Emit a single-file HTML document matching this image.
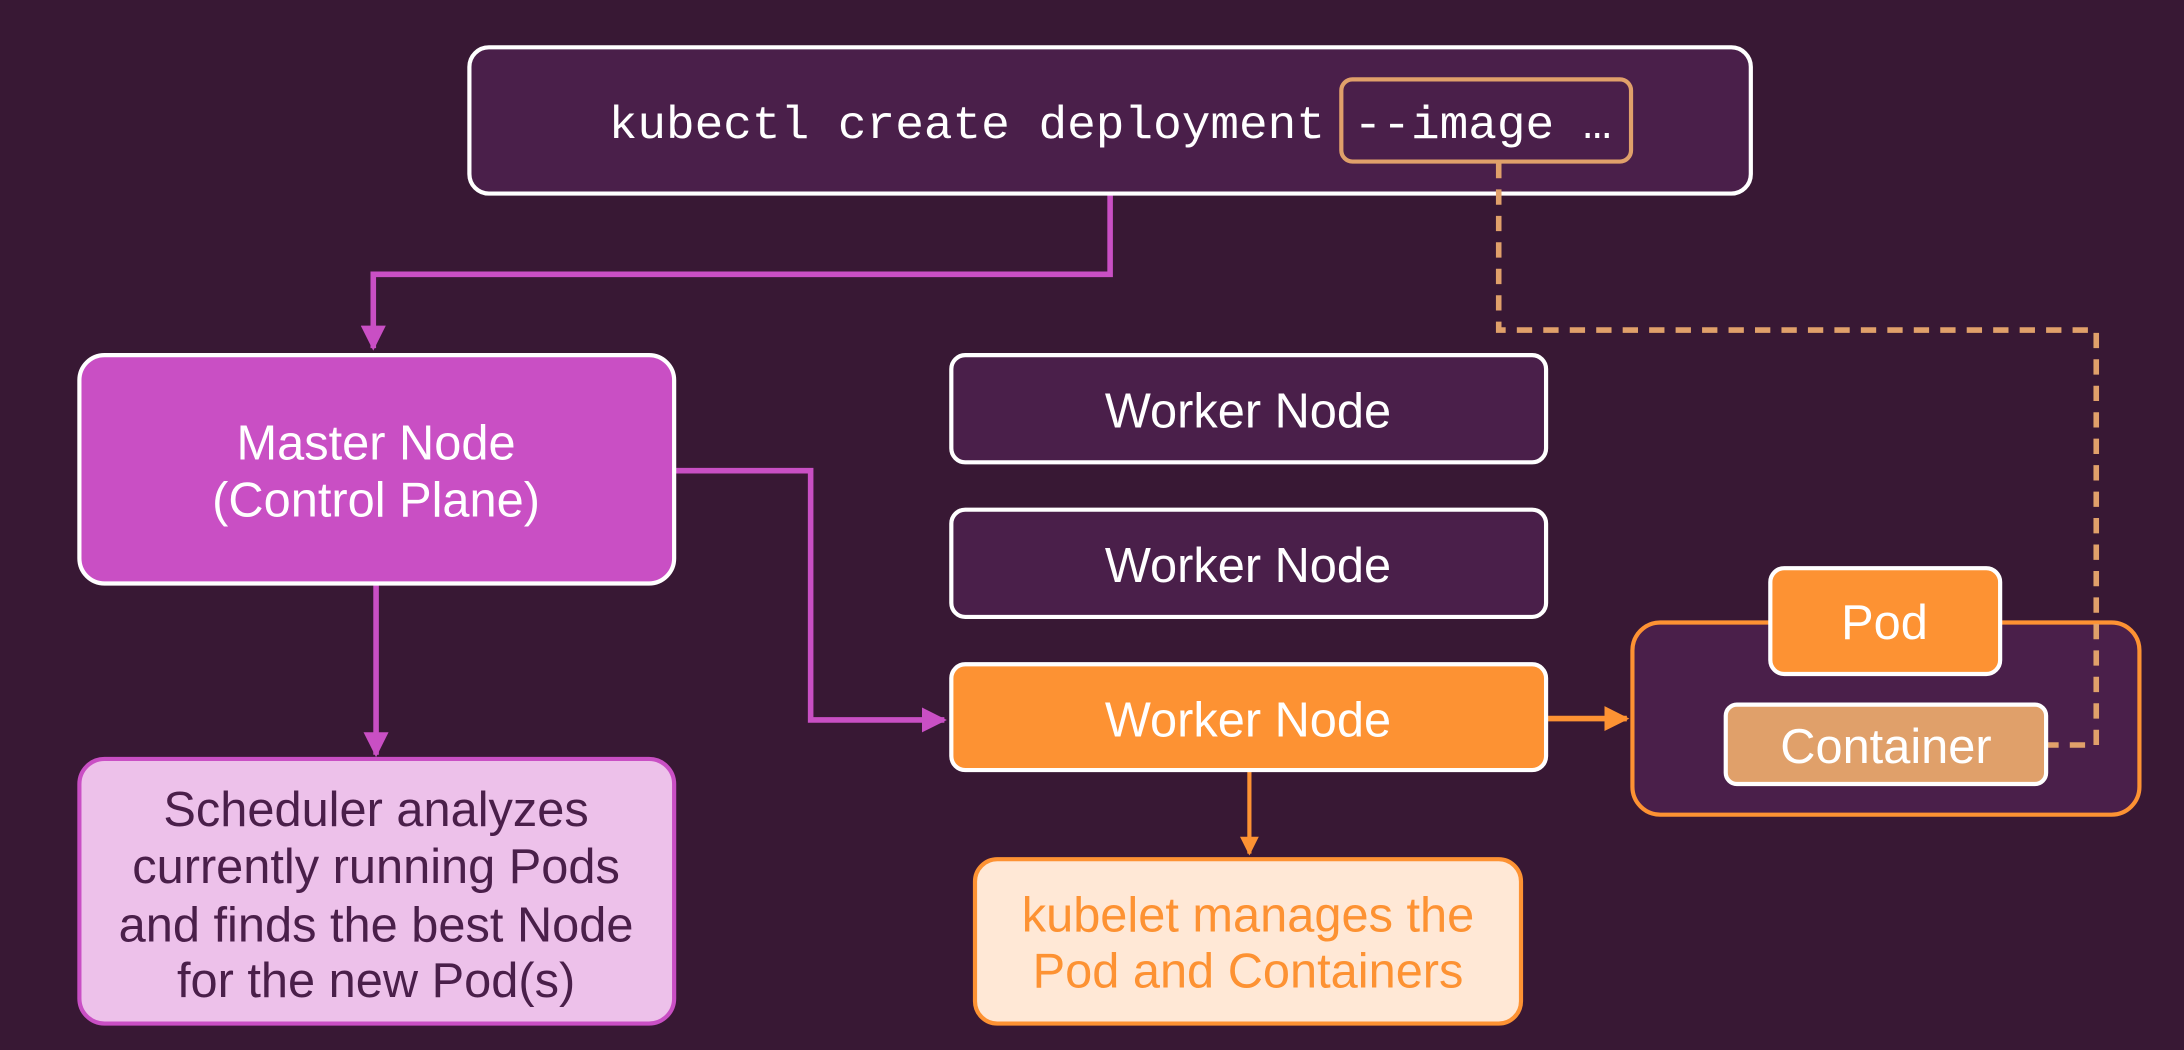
<!DOCTYPE html>
<html><head><meta charset="utf-8"><style>
html,body{margin:0;padding:0;background:#381834;width:2184px;height:1050px;overflow:hidden}
svg{display:block}
text{font-family:"Liberation Sans",sans-serif}
</style></head><body>
<svg width="2184" height="1050" viewBox="0 0 1568 754" preserveAspectRatio="none" xmlns="http://www.w3.org/2000/svg">
<defs>
<marker id="ap" viewBox="0 0 10 10" refX="9" refY="5" markerWidth="4.5" markerHeight="4.5" orient="auto"><path d="M0,0 L10,5 L0,10 z" fill="#c94fc4"/></marker>
<marker id="ao" viewBox="0 0 10 10" refX="9" refY="5" markerWidth="4.5" markerHeight="4.5" orient="auto"><path d="M0,0 L10,5 L0,10 z" fill="#fd9233"/></marker>
</defs>
<rect width="1568" height="754" fill="#381834"/>
<polyline points="797,139 797,197 268,197 268,250" fill="none" stroke="#c94fc4" stroke-width="4" marker-end="url(#ap)"/>
<polyline points="484,338 582,338 582,517 678,517" fill="none" stroke="#c94fc4" stroke-width="4" marker-end="url(#ap)"/>
<polyline points="270,419 270,542" fill="none" stroke="#c94fc4" stroke-width="4" marker-end="url(#ap)"/>
<polyline points="1110,516 1168,516" fill="none" stroke="#fd9233" stroke-width="4" marker-end="url(#ao)"/>
<polyline points="897,553 897,613" fill="none" stroke="#fd9233" stroke-width="3" marker-end="url(#ao)"/>
<rect x="337" y="34" width="920" height="105" rx="14" fill="#4a1f4a" stroke="#fff" stroke-width="3"/>
<rect x="963" y="57" width="208" height="59" rx="8" fill="none" stroke="#e0a06a" stroke-width="3"/>
<text x="437" y="99" font-size="33" fill="#fff" textLength="720" lengthAdjust="spacingAndGlyphs" style="font-family:'Liberation Mono',monospace">kubectl create deployment --image …</text>
<rect x="57" y="255" width="427" height="164" rx="18" fill="#c94fc4" stroke="#fff" stroke-width="3"/>
<g font-size="35" fill="#fff" text-anchor="middle">
<text x="270" y="330">Master Node</text>
<text x="270" y="371">(Control Plane)</text>
</g>
<rect x="57" y="545" width="427" height="190" rx="18" fill="#edc1ea" stroke="#c94fc4" stroke-width="3"/>
<g font-size="35" fill="#4a1f4a" text-anchor="middle">
<text x="270" y="593">Scheduler analyzes</text>
<text x="270" y="634">currently running Pods</text>
<text x="270" y="676">and finds the best Node</text>
<text x="270" y="716">for the new Pod(s)</text>
</g>
<rect x="683" y="255" width="427" height="77" rx="10" fill="#4a1f4a" stroke="#fff" stroke-width="3"/>
<rect x="683" y="366" width="427" height="77" rx="10" fill="#4a1f4a" stroke="#fff" stroke-width="3"/>
<rect x="683" y="477" width="427" height="76" rx="10" fill="#fd9233" stroke="#fff" stroke-width="3"/>
<g font-size="35" fill="#fff" text-anchor="middle">
<text x="896" y="307">Worker Node</text>
<text x="896" y="418">Worker Node</text>
<text x="896" y="529">Worker Node</text>
</g>
<rect x="700" y="617" width="392" height="118" rx="16" fill="#ffe8d6" stroke="#fd9233" stroke-width="3"/>
<text x="896" y="669" font-size="35" fill="#fd9233" text-anchor="middle">kubelet manages the</text>
<text x="896" y="709" font-size="35" fill="#fd9233" text-anchor="middle">Pod and Containers</text>
<rect x="1172" y="447" width="364" height="138" rx="20" fill="#4a1f4a" stroke="#fd9233" stroke-width="3"/>
<polyline points="1076,117 1076,237 1505,237 1505,535 1469,535" fill="none" stroke="#e0a06a" stroke-width="4" stroke-dasharray="11,8"/>
<rect x="1271" y="408" width="165" height="76" rx="10" fill="#fd9233" stroke="#fff" stroke-width="3"/>
<text x="1353" y="459" font-size="35" fill="#fff" text-anchor="middle">Pod</text>
<rect x="1239" y="506" width="230" height="57" rx="8" fill="#e0a06a" stroke="#fff" stroke-width="3"/>
<text x="1354" y="548" font-size="35" fill="#fff" text-anchor="middle">Container</text>
</svg>
</body></html>
